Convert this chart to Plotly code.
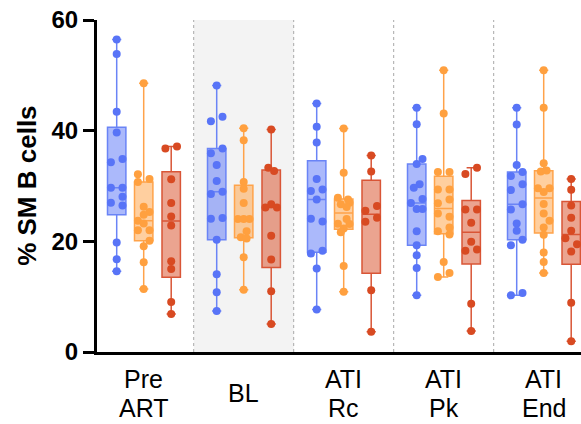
import numpy as np
import plotly.graph_objects as go

# ---------------- data ----------------
categories = ["Pre<br>ART", "BL", "ATI<br>Rc", "ATI<br>Pk", "ATI<br>End"]

blue_values = [
    [56.46, 53.86, 43.41, 39.67, 34.89, 34.29, 29.70, 29.70, 28.07, 26.98, 26.49, 19.79, 16.77, 14.59],
    [48.18, 41.72, 42.50, 36.76, 35.92, 33.80, 30.90, 28.55, 28.97, 24.08, 24.20, 20.27, 14.05, 10.78, 7.40],
    [44.92, 40.69, 37.85, 31.27, 29.09, 29.39, 27.58, 23.59, 24.08, 18.28, 17.79, 15.08, 7.70],
    [44.14, 41.18, 34.89, 33.99, 30.30, 29.70, 27.64, 26.92, 25.83, 25.83, 21.84, 19.30, 17.49, 15.19, 10.24],
    [44.14, 41.12, 33.80, 31.81, 32.54, 30.30, 29.27, 26.68, 25.77, 23.23, 21.90, 20.27, 19.30, 10.24, 10.66],
]
blue_slots = [
    [0, 0, 0, 0, 1, -1, -1, 1, 1, -1, 1, 0, 0, 0],
    [0, -1, 1, 1, -1, 0, 0, -1, 1, -1, 1, 0, 0, 0, 0],
    [0, 0, 0, 0, -1, 1, 0, 1, -1, 1, -1, 0, 0],
    [0, 0, 1, 0, 0.5, -0.5, 1, -1, 0, 1, 0, 0, 0, 0, 0],
    [0, 0, 0, -1, 1, 1, -1, 1, -1, 0, 0, 1, -1, -1, 1],
]

orange_values = [
    [48.55, 32.11, 31.27, 30.72, 26.25, 25.29, 24.80, 23.71, 23.23, 22.02, 22.02, 20.09, 19.12, 16.22, 11.38],
    [40.45, 38.27, 30.72, 29.51, 26.92, 24.02, 24.02, 24.02, 21.84, 20.75, 20.51, 17.13, 11.27],
    [40.39, 32.41, 27.88, 27.58, 26.98, 26.68, 26.19, 24.02, 23.17, 23.11, 22.33, 21.66, 15.56, 10.91],
    [50.90, 43.11, 32.54, 32.54, 29.39, 29.39, 27.58, 26.86, 25.05, 24.44, 22.51, 21.84, 21.24, 16.28, 13.56, 14.29],
    [50.90, 44.14, 34.11, 32.60, 32.78, 29.58, 29.58, 28.91, 26.74, 25.05, 23.71, 22.51, 21.18, 17.98, 16.28, 14.29],
]
orange_slots = [
    [0, -1, 1, -1, 0, 1, 0, -1, 0, -1, 1, 1, 0, 0, 0],
    [0, 0, 0, 0, 0, -1, 0, 1, 0.5, -0.5, 0.5, 0, 0],
    [0, 0, -1, 0.75, 1, -0.5, 0.5, 0.5, -1, 1, 0, -0.5, 0, 0],
    [0, 0, -1, 1, -1, 1, 1, -1, -1, 1, 1, -1, 1, 0, -1, 1],
    [0, 0, 0, -0.5, 0.5, -1, 1, 0, 0, 0, 1, 0, 0, 0, 0, 0],
]

red_values = [
    [36.76, 37.13, 31.21, 26.92, 24.50, 22.87, 16.40, 15.01, 9.03, 6.86],
    [40.21, 33.32, 32.72, 26.68, 26.13, 26.13, 21.00, 16.71, 10.97, 5.04],
    [35.50, 32.60, 25.53, 26.37, 23.53, 24.26, 11.15, 3.66],
    [33.32, 32.17, 25.77, 25.77, 23.35, 19.91, 18.28, 18.52, 8.73, 3.78],
    [31.27, 29.33, 26.49, 24.26, 21.90, 20.57, 19.49, 18.16, 8.91, 1.96],
]
red_slots = [
    [-1, 1, 0, 0, 0, 0, 0, 0, 0, 0],
    [0, -0.5, 0.5, 0, -1, 1, 0, 0, 0, 0],
    [0, 0, -1, 1, -1, 1, 0, 0],
    [1, -1, -1, 1, 0, 0, -1, 1, 0, 0],
    [0, 0, 0, 0, 0, -1, 1, 0, 0, 0],
]

y_ticks = [0, 20, 40, 60]
y_title = "% SM B cells"
shaded_group = 1

# ---------------- styles ----------------
FONT = "Liberation Sans, Arial, sans-serif"
series = [
    dict(values=blue_values, slots=blue_slots, color="#5874f7", line="#6a84f6", offset=-0.27),
    dict(values=orange_values, slots=orange_slots, color="#ffa03f", line="#ffa34a", offset=0.0),
    dict(values=red_values, slots=red_slots, color="#d84a22", line="#d95536", offset=0.275),
]
SLOT = 0.058
BOXW = 0.184


def hex_to_rgba(h, a):
    h = h.lstrip("#")
    r, g, b = int(h[0:2], 16), int(h[2:4], 16), int(h[4:6], 16)
    return f"rgba({r},{g},{b},{a})"


fig = go.Figure()

for s in series:
    for gi, vals in enumerate(s["values"]):
        a = np.array(vals, dtype=float)
        q1, med, q3 = np.percentile(a, [25, 50, 75], method="weibull")
        xpos = gi + s["offset"]
        fig.add_trace(go.Box(
            x=[xpos], q1=[q1], median=[med], q3=[q3],
            lowerfence=[a.min()], upperfence=[a.max()],
            width=BOXW, whiskerwidth=0.5,
            fillcolor=hex_to_rgba(s["color"], 0.5),
            line=dict(color=s["line"], width=1.5),
            boxpoints=False, showlegend=False, hoverinfo="skip",
        ))

for s in series:
    for gi, vals in enumerate(s["values"]):
        xs = [gi + s["offset"] + k * SLOT for k in s["slots"][gi]]
        fig.add_trace(go.Scatter(
            x=xs, y=vals, mode="markers",
            marker=dict(size=8, color=s["color"], line=dict(width=0)),
            showlegend=False, hoverinfo="skip",
        ))

shapes = [
    dict(type="rect", xref="x", yref="y", x0=shaded_group - 0.5, x1=shaded_group + 0.5,
         y0=0, y1=60, fillcolor="#f3f3f3", line=dict(width=0), layer="below"),
]
for i in range(len(categories) - 1):
    shapes.append(dict(type="line", xref="x", yref="y", x0=i + 0.5, x1=i + 0.5, y0=0, y1=60,
                       line=dict(color="#a8a8a8", width=1, dash="dot"), layer="below"))

annotations = []
for gi, lab in enumerate(categories):
    lines = lab.split("<br>")
    if len(lines) == 1:
        shifts = [-41]
    else:
        shifts = [-27, -56]
    for ln, sh in zip(lines, shifts):
        annotations.append(dict(x=gi, y=0, xref="x", yref="paper", text=ln, showarrow=False,
                                yanchor="middle", xanchor="center", yshift=sh,
                                font=dict(family=FONT, size=25, color="black")))

annotations.append(dict(x=-0.145, y=0.5, xref="paper", yref="paper", text="<b>" + y_title + "</b>",
                        showarrow=False, textangle=-90, xanchor="center", yanchor="middle",
                        font=dict(family=FONT, size=26, color="black")))

fig.update_layout(
    width=581, height=424,
    margin=dict(l=97, r=0, t=20, b=72),
    paper_bgcolor="white", plot_bgcolor="white",
    shapes=shapes, annotations=annotations,
    xaxis=dict(range=[-0.467, 4.373], showgrid=False, zeroline=False, showticklabels=False,
               ticks="", showline=True, linecolor="black", linewidth=3, fixedrange=True),
    yaxis=dict(range=[0, 60], tickvals=y_ticks, ticktext=[f"<b>{t}</b>" for t in y_ticks],
               showgrid=False, zeroline=False, showline=True, linecolor="black", linewidth=3,
               ticks="outside", ticklen=11, tickwidth=3, tickcolor="black",
               tickfont=dict(family=FONT, size=24, color="black"), fixedrange=True),
    font=dict(family=FONT),
)

fig.write_html("out.html")
